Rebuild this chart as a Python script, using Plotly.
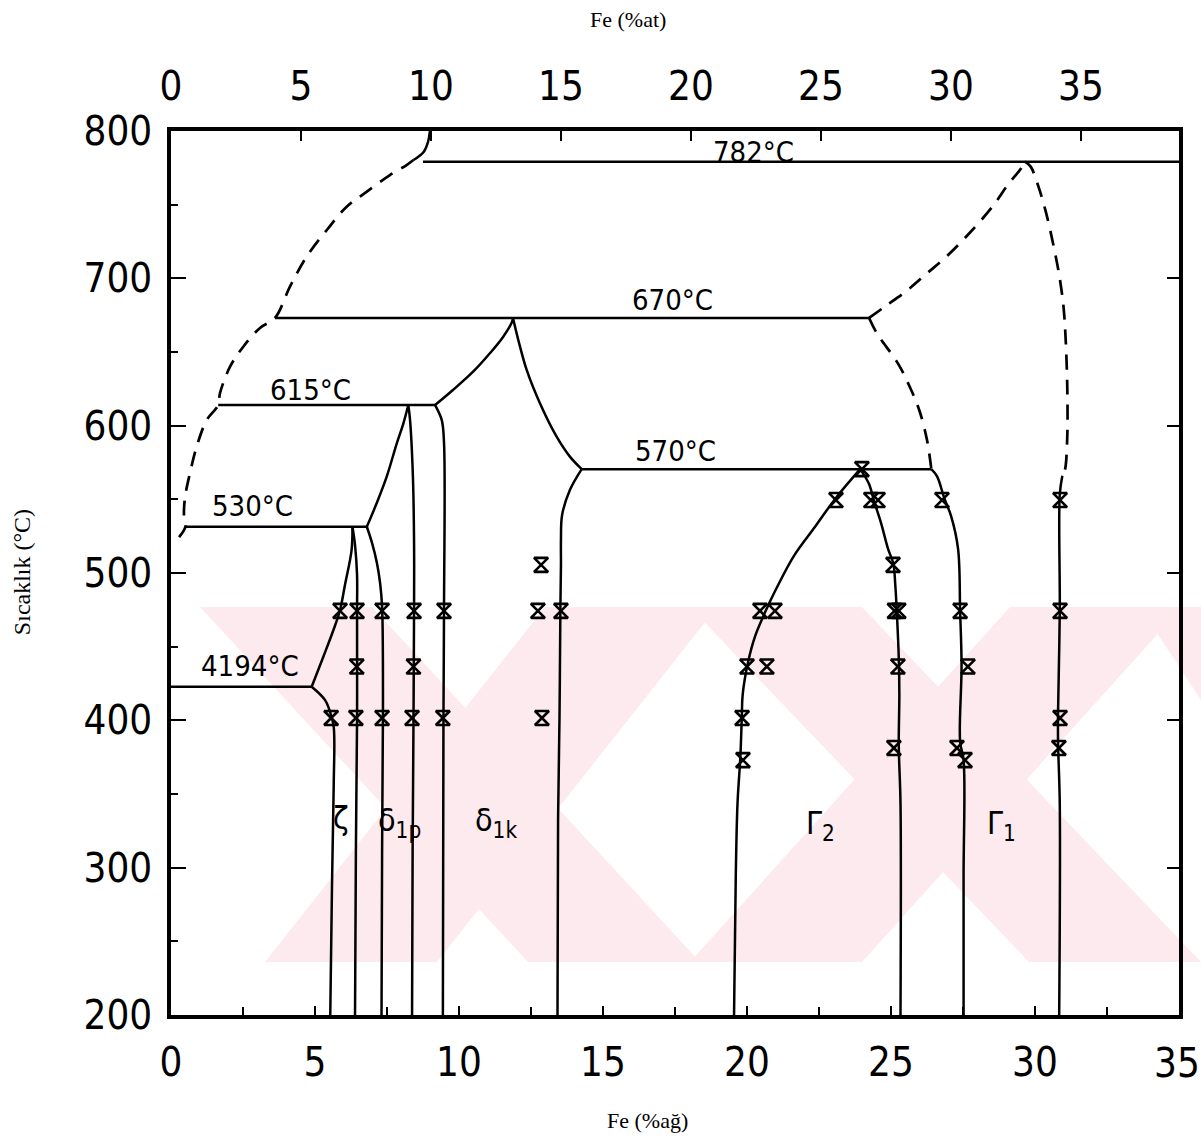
import plotly.graph_objects as go

# ---------------- axis ticks ----------------
wt_ticks = [0, 5, 10, 15, 20, 25, 30]              # Fe (%ağ) bottom axis (35 drawn at frame edge)
wt_last_tick = 35
at_ticks = [0, 5, 10, 15, 20, 25, 30, 35]          # Fe (%at) top axis
T_ticks = [200, 300, 400, 500, 600, 700, 800]      # Sıcaklık (°C)
AT_PER_WT = 28.8 / 26.0                             # top scale / bottom scale ratio

# ---------------- isotherms (wt% Fe, °C as drawn) ----------------
iso_782_x = [8.75, 35.0];  iso_782_T = [779.2, 779.2]
iso_670_x = [3.61, 24.24]; iso_670_T = [673.1, 673.1]
iso_615_x = [1.64, 9.17];  iso_615_T = [614.0, 614.0]
iso_570_x = [14.26, 26.40]; iso_570_T = [570.5, 570.5]
iso_530_x = [0.50, 6.80];  iso_530_T = [531.4, 531.4]
iso_419_x = [0.0, 4.885];  iso_419_T = [422.8, 422.8]

# ---------------- solid phase boundaries ----------------
arc_x = [8.99, 8.93, 8.78, 8.42]
arc_T = [800.0, 793.0, 786.0, 780.3]

zeta_liq_x = [4.885, 5.29, 5.64, 5.87, 6.04, 6.27, 6.30]
zeta_liq_T = [422.8, 443.2, 461.3, 474.9, 491.9, 515.6, 531.4]

zeta_left_x = [4.885, 5.35, 5.54, 5.65, 5.65, 5.59, 5.53]
zeta_left_T = [422.8, 413.7, 404.6, 395.5, 356.1, 287.5, 200.0]

zeta_right_x = [6.30, 6.39, 6.46, 6.46, 6.46, 6.42, 6.39]
zeta_right_T = [531.4, 519.0, 498.6, 474.9, 400.2, 312.0, 200.0]

d1p_left_x = [6.80, 6.98, 7.15, 7.26, 7.33, 7.36, 7.33, 7.31]
d1p_left_T = [531.4, 520.4, 506.8, 493.2, 476.9, 407.0, 312.0, 200.0]

d1p_liq_x = [6.80, 7.14, 7.49, 7.84, 8.07, 8.24]
d1p_liq_T = [531.4, 547.3, 565.4, 588.0, 601.6, 614.0]

d1p_right_x = [8.24, 8.30, 8.40, 8.44, 8.44, 8.42, 8.39, 8.37]
d1p_right_T = [614.0, 603.9, 565.2, 520.4, 476.9, 400.2, 312.0, 200.0]

d1k_left_x = [9.17, 9.40, 9.48, 9.48, 9.46, 9.44]
d1k_left_T = [614.0, 603.9, 588.2, 476.9, 400.2, 200.0]

d1k_liq_x = [9.17, 9.79, 10.49, 11.08, 11.53, 11.84, 11.875]
d1k_liq_T = [614.0, 624.2, 636.6, 649.3, 660.2, 670.4, 673.1]

d1k_top_x = [11.875, 12.06, 12.35, 12.81, 13.39, 13.85, 14.26]
d1k_top_T = [673.1, 658.1, 637.8, 615.2, 592.5, 579.0, 570.5]

d1k_right_x = [14.26, 13.85, 13.58, 13.54, 13.54, 13.52, 13.49, 13.44, 13.42]
d1k_right_T = [570.5, 556.3, 539.4, 522.4, 505.4, 475.6, 402.3, 332.4, 200.0]

g2_left_x = [23.93, 23.08, 22.35, 21.62, 21.01, 20.65, 20.28, 20.04, 19.85, 19.82, 19.77, 19.67, 19.61, 19.55]
g2_left_T = [570.5, 550.8, 531.0, 511.3, 489.1, 474.3, 457.0, 439.7, 417.5, 402.7, 375.5, 343.5, 294.1, 200.0]

g2_right_x = [23.93, 24.23, 24.42, 24.66, 24.90, 25.08, 25.15, 25.20, 25.27, 25.29, 25.27, 25.33, 25.33]
g2_right_T = [570.5, 560.7, 548.3, 533.5, 516.2, 506.4, 491.5, 474.3, 442.2, 417.5, 382.9, 343.5, 200.0]

g1_left_x = [26.40, 26.60, 26.85, 27.09, 27.33, 27.40, 27.45, 27.40, 27.52, 27.52, 27.52]
g1_left_T = [570.5, 565.6, 550.8, 538.4, 516.2, 474.3, 437.2, 385.4, 373.1, 294.1, 200.0]

g1_right_x = [30.95, 30.86, 30.86, 30.80, 30.80, 30.86, 30.84]
g1_right_T = [566.0, 553.3, 474.3, 405.2, 385.4, 343.5, 200.0]

# ---------------- dashed (estimated) boundaries ----------------
liq_x = [8.42, 8.18, 7.60, 6.80, 6.10, 5.41, 4.71, 4.13, 3.61, 3.09, 2.51, 2.05, 1.70, 1.64,
         1.24, 0.89, 0.66, 0.49, 0.45, 0.50, 0.28]
liq_T = [780.3, 776.9, 770.1, 758.8, 748.6, 732.8, 714.7, 694.3, 673.1, 666.3, 653.6, 640.0, 622.0, 614.0,
         603.8, 585.7, 567.9, 551.8, 539.4, 531.4, 524.4]

g1_up_x = [24.24, 24.78, 25.58, 26.25, 26.92, 27.72, 28.52, 29.05, 29.52, 29.65]
g1_up_T = [673.1, 680.7, 692.1, 703.4, 714.7, 730.6, 748.6, 763.3, 774.7, 779.2]

g1_mid_x = [24.24, 24.51, 25.24, 25.65, 25.98, 26.25, 26.40]
g1_mid_T = [673.1, 662.7, 642.3, 626.4, 610.6, 590.3, 570.5]

g1_hi_x = [29.65, 29.85, 30.12, 30.39, 30.65, 30.85, 30.99, 31.06, 31.12, 31.12, 31.04, 30.95]
g1_hi_T = [779.2, 775.8, 762.2, 744.1, 721.5, 701.1, 680.7, 660.4, 626.4, 592.5, 570.0, 566.0]

# ---------------- experimental points ----------------
pts_x = [5.87, 6.46, 7.33, 8.44, 9.48, 12.74, 13.54, 20.45, 20.97, 25.12, 25.27, 27.40, 30.87,
         6.45, 8.42, 20.00, 20.69, 25.24, 27.67,
         5.56, 6.42, 7.33, 8.37, 9.44, 12.88, 19.83, 30.87,
         25.10, 27.29, 30.83,
         19.86, 27.57,
         12.85, 25.07,
         23.09, 24.30, 24.55, 26.77, 30.87,
         23.99]
pts_T = [474.3] * 13 + [436.5] * 6 + [401.6] * 8 + [381.2] * 3 + [373.0] * 2 + [505.5] * 2 + [549.5] * 5 + [570.5]

# ---------------- labels ----------------
iso_labels = ["782°C", "670°C", "615°C", "570°C", "530°C", "4194°C"]
iso_label_x = [20.24, 17.40, 4.83, 17.50, 2.83, 2.73]
iso_label_T = [786.0, 685.3, 624.2, 583.0, 545.5, 436.9]

phase_labels = ["ζ", "δ<sub>1p</sub>", "δ<sub>1k</sub>", "Γ<sub>2</sub>", "Γ<sub>1</sub>"]
phase_label_x = [5.90, 7.95, 11.30, 22.55, 28.85]
phase_label_T = [334.0, 331.0, 331.0, 329.0, 329.0]

STENCIL = "DejaVu Sans Condensed, DejaVu Sans, sans-serif"
SERIF = "Liberation Serif, Times New Roman, serif"

solid = [
    (iso_782_x, iso_782_T), (iso_670_x, iso_670_T), (iso_615_x, iso_615_T),
    (iso_570_x, iso_570_T), (iso_530_x, iso_530_T), (iso_419_x, iso_419_T),
    (arc_x, arc_T), (zeta_liq_x, zeta_liq_T), (zeta_left_x, zeta_left_T),
    (zeta_right_x, zeta_right_T), (d1p_left_x, d1p_left_T), (d1p_liq_x, d1p_liq_T),
    (d1p_right_x, d1p_right_T), (d1k_left_x, d1k_left_T), (d1k_liq_x, d1k_liq_T),
    (d1k_top_x, d1k_top_T), (d1k_right_x, d1k_right_T), (g2_left_x, g2_left_T),
    (g2_right_x, g2_right_T), (g1_left_x, g1_left_T), (g1_right_x, g1_right_T),
]
dashed = [(liq_x, liq_T), (g1_up_x, g1_up_T), (g1_mid_x, g1_mid_T), (g1_hi_x, g1_hi_T)]

fig = go.Figure()
for xs, ts in solid:
    fig.add_trace(go.Scatter(x=xs, y=ts, mode="lines", line=dict(color="black", width=2.5),
                             line_shape="spline", hoverinfo="skip", showlegend=False))
for xs, ts in dashed:
    fig.add_trace(go.Scatter(x=xs, y=ts, mode="lines",
                             line=dict(color="black", width=2.7, dash="15px,10px"),
                             line_shape="spline", hoverinfo="skip", showlegend=False))
fig.add_trace(go.Scatter(x=pts_x, y=pts_T, mode="markers",
                         marker=dict(symbol="hourglass-open", size=14, color="black",
                                     line=dict(color="black", width=2.6)),
                         hoverinfo="skip", showlegend=False))
# invisible helpers for the top (at%) and right axes
fig.add_trace(go.Scatter(x=[0, 35 * AT_PER_WT], y=[200, 800], xaxis="x2", yaxis="y",
                         mode="markers", marker=dict(opacity=0), hoverinfo="skip", showlegend=False))
fig.add_trace(go.Scatter(x=[0, 35], y=[200, 800], xaxis="x", yaxis="y2",
                         mode="markers", marker=dict(opacity=0), hoverinfo="skip", showlegend=False))

for txt, x, t in zip(iso_labels, iso_label_x, iso_label_T):
    fig.add_annotation(x=x, y=t, text=txt, showarrow=False,
                       font=dict(family=STENCIL, size=29, color="black"))
for txt, x, t in zip(phase_labels, phase_label_x, phase_label_T):
    fig.add_annotation(x=x, y=t, text=txt, showarrow=False,
                       font=dict(family=STENCIL, size=32, color="black"))

tickfont = dict(family=STENCIL, size=40, color="black")

# last bottom tick label sits on the frame edge
fig.add_annotation(x=wt_last_tick, xref="x", yref="paper", y=-0.0543, text=str(wt_last_tick),
                   xanchor="center", yanchor="middle", xshift=-2, showarrow=False, font=tickfont)

fig.add_annotation(xref="paper", yref="paper", x=0.4534, y=1.1256, text="Fe (%at)",
                   xanchor="center", yanchor="middle",
                   showarrow=False, font=dict(family=SERIF, size=22, color="black"))
fig.add_annotation(xref="paper", yref="paper", x=0.473, y=-0.1188, text="Fe (%ağ)",
                   xanchor="center", yanchor="middle",
                   showarrow=False, font=dict(family=SERIF, size=22, color="black"))
fig.add_annotation(xref="paper", yref="paper", x=-0.1478, y=0.501, text="Sıcaklık (°C)",
                   xanchor="center", yanchor="middle",
                   textangle=-90, showarrow=False, font=dict(family=SERIF, size=24, color="black"))

# faint pink background watermark of the scanned page (two large X shapes), paper coords
def _px(px, py):
    return (px - 171) / 1008.0, (1015 - py) / 884.0

def _poly(pts):
    coords = [_px(a, b) for a, b in pts]
    return "M " + " L ".join(f"{x:.4f},{y:.4f}" for x, y in coords) + " Z"

wm_polys = [
    [(200, 607), (372, 607), (700, 962), (528, 962)],
    [(545, 607), (717, 607), (437, 962), (265, 962)],
    [(690, 607), (862, 607), (1201, 962), (1029, 962)],
    [(1010, 607), (1182, 607), (862, 962), (690, 962)],
    [(1140, 607), (1201, 607), (1201, 700)],
]
for poly in wm_polys:
    fig.add_shape(type="path", path=_poly(poly), xref="paper", yref="paper",
                  fillcolor="#fdeaee", line=dict(width=0), layer="below")

fig.update_layout(
    width=1201, height=1141,
    margin=dict(l=171, r=22, t=131, b=126, autoexpand=False),
    paper_bgcolor="white", plot_bgcolor="rgba(0,0,0,0)",
    xaxis=dict(range=[0, 35], tickmode="array", tickvals=wt_ticks, ticks="inside", ticklen=9,
               tickwidth=2, tickcolor="black", showline=True, linewidth=3.5, linecolor="black",
               mirror=True, showgrid=False, zeroline=False, tickfont=tickfont,
               ticklabelstandoff=9, automargin=False,
               minor=dict(dtick=2.5, tick0=0, ticks="inside", ticklen=8, tickwidth=2,
                          tickcolor="black", showgrid=False)),
    xaxis2=dict(range=[0, 35 * AT_PER_WT], overlaying="x", side="top", anchor="y",
                tickmode="array", tickvals=at_ticks, ticks="inside", ticklen=10, tickwidth=2,
                tickcolor="black", showline=False, showgrid=False, zeroline=False,
                tickfont=tickfont, ticklabelstandoff=22, automargin=False),
    yaxis=dict(range=[200, 800], tickmode="array", tickvals=T_ticks, ticks="inside", ticklen=15,
               tickwidth=2, tickcolor="black", showline=True, linewidth=3.5, linecolor="black",
               mirror=True, showgrid=False, zeroline=False, tickfont=tickfont,
               ticklabelstandoff=7, automargin=False,
               minor=dict(dtick=50, tick0=200, ticks="inside", ticklen=7, tickwidth=2,
                          tickcolor="black", showgrid=False)),
    yaxis2=dict(range=[200, 800], overlaying="y", side="right", anchor="x", tickmode="array",
                tickvals=T_ticks, ticks="inside", ticklen=12, tickwidth=2, tickcolor="black",
                showticklabels=False, showline=False, showgrid=False, zeroline=False,
                automargin=False),
)

fig.write_html("out.html")
